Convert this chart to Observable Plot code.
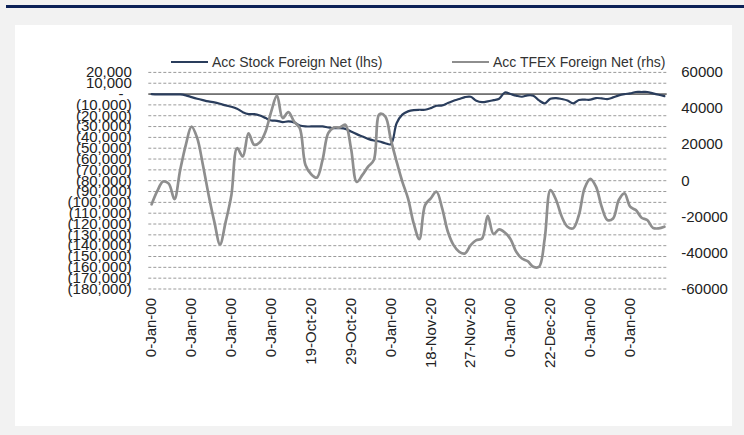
<!DOCTYPE html>
<html><head><meta charset="utf-8">
<script src="https://cdn.jsdelivr.net/npm/d3@7"></script>
<script src="https://cdn.jsdelivr.net/npm/@observablehq/plot@0.6"></script>
<style>
html,body{margin:0;padding:0;width:744px;height:435px;overflow:hidden;background:#f2f2f2;font-family:"Liberation Sans",Arial,sans-serif;}
#bar{position:absolute;left:6px;top:5px;width:738px;height:3px;background:#0c2157;}
#panel{position:absolute;left:15px;top:25px;width:717px;height:401px;background:#fff;}
#chart{position:absolute;left:0;top:0;}
.leg{position:absolute;top:53px;height:18px;font-size:14px;color:#333;display:flex;align-items:center;white-space:nowrap;}
.leg .sw{display:inline-block;width:37px;height:2px;margin-right:4px;}
</style>
</head><body>
<div id="bar"></div>
<div id="panel"></div>
<div id="chart"></div>
<div class="leg" style="left:171px"><span class="sw" style="background:#2a3d5c"></span><span id="l1"></span></div>
<div class="leg" style="left:452px"><span class="sw" style="background:#8e8e8e"></span><span id="l2"></span></div>
<script>
const seriesNames = ["Acc Stock Foreign Net (lhs)", "Acc TFEX Foreign Net (rhs)"];
const tickLabels = ["0-Jan-00","0-Jan-00","0-Jan-00","0-Jan-00","19-Oct-20","29-Oct-20","0-Jan-00","18-Nov-20","27-Nov-20","0-Jan-00","22-Dec-20","0-Jan-00","0-Jan-00"];
const labelEvery = 7;
const leftTicks = d3.range(20000, -180001, -10000);
const rightTicks = [60000, 40000, 20000, 0, -20000, -40000, -60000];
const stockNet = [0,-300,-300,-300,-300,-300,-1200,-2800,-4300,-5600,-6800,-7700,-9000,-10500,-11700,-13600,-16700,-18500,-18500,-19800,-22200,-24400,-24700,-25900,-25300,-26200,-29000,-29900,-29900,-29900,-29900,-30900,-31500,-31500,-32100,-34600,-37000,-39200,-41400,-42900,-43800,-45400,-46300,-27000,-19000,-16000,-14800,-14500,-14500,-13000,-10800,-10500,-8300,-6200,-4600,-2800,-2500,-6200,-7500,-6800,-5600,-4300,1500,0,-1500,-2500,-1200,-1500,-5900,-8500,-4300,-3700,-4600,-5900,-8600,-5500,-5200,-5200,-3700,-4000,-4600,-3100,-1200,0,600,1900,1900,1900,600,-600,-1900];
const tfexNet = [-13100,-5700,-500,-1600,-10200,5800,19900,30000,23600,8700,-7900,-22700,-35300,-22700,-7900,18000,13400,26300,19900,21300,27300,38400,47100,34700,38000,32800,29100,8700,3600,1700,11500,26300,29500,29500,31000,17800,-700,3200,7800,11500,36900,35600,22600,10600,-500,-9800,-23700,-32400,-13500,-9800,-6100,-15300,-28300,-35700,-39400,-40300,-35700,-32900,-32000,-19500,-29500,-27000,-28700,-32400,-39400,-43100,-44600,-47700,-47700,-32000,-5200,-10700,-20000,-25500,-26400,-19000,-4200,1000,-3300,-14400,-21800,-20900,-10700,-7000,-14400,-16300,-20500,-21800,-26100,-26400,-25500];

document.getElementById("l1").textContent = seriesNames[0];
document.getElementById("l2").textContent = seriesNames[1];

const n = stockNet.length;
const lMin = leftTicks[leftTicks.length-1], lMax = leftTicks[0];
const rMin = rightTicks[rightTicks.length-1], rMax = rightTicks[0];
const toLeft = r => lMin + (r - rMin) / (rMax - rMin) * (lMax - lMin);
const fromLeft = l => rMin + (l - lMin) / (lMax - lMin) * (rMax - rMin);
const fmt = d3.format(",");
const fmtLeft = v => v > 0 ? fmt(v) : v === 0 ? "-\u00a0\u00a0" : "(" + fmt(-v) + ")";
const tickIdx = tickLabels.map((_, k) => k * labelEvery);

const W = 744, H = 435;
const pTop = 71.9, pBottom = 288.5, pLeft = 148.3, pRight = 666.7;
const font = "Liberation Sans, Arial, sans-serif";
const chart = Plot.plot({
  width: W, height: H,
  marginTop: pTop, marginBottom: H - pBottom, marginLeft: pLeft, marginRight: W - pRight,
  style: {background: "transparent", fontFamily: font, fontSize: "15px", color: "#222"},
  x: {type: "linear", domain: [-0.5, n - 0.5]},
  y: {domain: [lMin, lMax]},
  marks: [
    Plot.ruleY(leftTicks.filter(v => v !== 0), {stroke: "#9a9a9a", strokeDasharray: "3,2", strokeWidth: 1}),
    Plot.ruleY([0], {stroke: "#000", strokeWidth: 1}),
    Plot.axisY({ticks: leftTicks, tickSize: 0, tickPadding: 17, tickFormat: fmtLeft, label: null, anchor: "left", fontSize: 15, fill: "#222"}),
    Plot.axisY({ticks: rightTicks.map(toLeft), tickSize: 0, tickPadding: 14, tickFormat: v => String(Math.round(fromLeft(v))), label: null, anchor: "right", fontSize: 15, fill: "#222"}),
    Plot.axisX({ticks: tickIdx, tickFormat: d => tickLabels[Math.round(d / labelEvery)], tickRotate: -90, tickSize: 0, tickPadding: 9, label: null, fontSize: 15, fill: "#222"}),
    Plot.line(stockNet, {x: (d, i) => i, y: d => d, stroke: "#2a3d5c", strokeWidth: 2.2, curve: "catmull-rom"}),
    Plot.line(tfexNet, {x: (d, i) => i, y: d => toLeft(d), stroke: "#8e8e8e", strokeWidth: 2.7, curve: "catmull-rom"})
  ]
});
document.getElementById("chart").appendChild(chart);
</script>
</body></html>
